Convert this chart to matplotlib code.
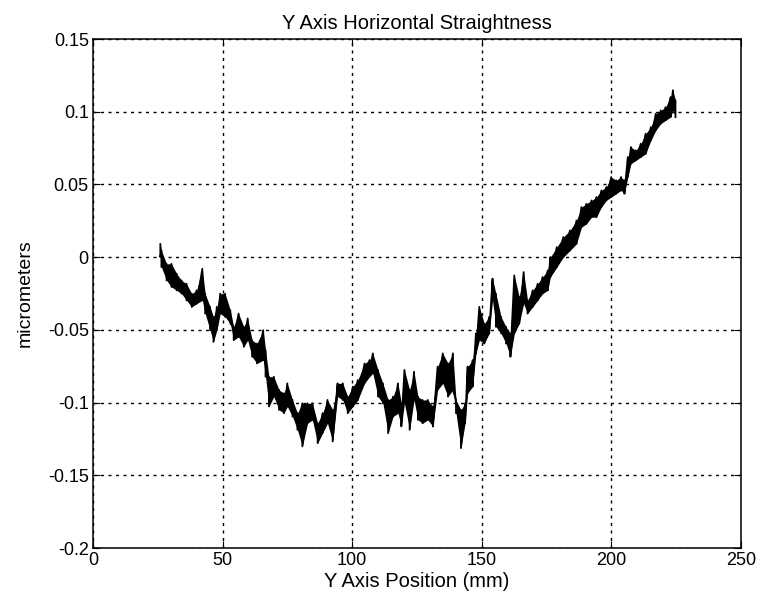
import matplotlib
matplotlib.use("Agg")
from matplotlib import pyplot as plt
import numpy as np

plt.rcParams['font.family'] = ['Liberation Sans', 'DejaVu Sans']
plt.rcParams['axes.unicode_minus'] = False

# position along the axis (mm) and the band of the trace
pos = [26.0, 26.4, 28.4, 30.3, 32.3, 34.2, 36.1, 38.1, 40.0, 42.2,
       43.3, 45.2, 46.5, 47.8, 49.1, 51.0, 53.0, 54.3, 56.2, 58.2,
       59.7, 61.4, 63.3, 65.7, 66.6, 67.9, 69.8, 71.8, 73.7, 75.0,
       77.0, 78.9, 80.8, 82.8, 84.7, 86.7, 88.6, 90.5, 92.5, 94.4,
       96.4, 98.3, 100.3, 102.2, 104.8, 106.7, 108.0, 110.0, 111.9, 113.9,
       115.8, 117.7, 119.0, 120.2, 122.2, 123.9, 125.4, 127.2, 129.2, 131.2,
       133.0, 135.0, 137.0, 138.9, 140.1, 142.0, 143.6, 144.6, 146.5, 147.8,
       149.1, 151.0, 152.9, 154.2, 155.5, 157.5, 159.4, 161.1, 162.6, 164.5,
       166.2, 167.7, 169.7, 171.6, 173.5, 175.5, 176.5, 179.0, 181.5, 184.1,
       186.6, 188.5, 190.4, 192.4, 194.3, 196.2, 198.1, 200.0, 201.9, 203.8,
       205.1, 206.4, 207.6, 209.5, 211.4, 213.3, 215.3, 217.2, 219.1, 221.0,
       222.9, 223.8, 224.8]

top = [0.009, 0.0046, -0.0046, -0.0046, -0.0114, -0.016, -0.0183, -0.0251, -0.0228, -0.008,
       -0.0251, -0.0342, -0.0411, -0.0342, -0.0251, -0.0251, -0.0365, -0.0479, -0.0388, -0.0479,
       -0.0422, -0.0571, -0.0594, -0.0502, -0.0639, -0.0822, -0.0822, -0.0913, -0.0936, -0.0868,
       -0.0982, -0.1073, -0.1005, -0.1005, -0.1005, -0.1142, -0.1073, -0.0982, -0.105, -0.0868,
       -0.0868, -0.0959, -0.089, -0.0845, -0.0731, -0.0708, -0.0662, -0.0776, -0.0868, -0.0982,
       -0.0959, -0.0868, -0.1005, -0.0776, -0.0913, -0.0788, -0.0959, -0.0982, -0.0982, -0.1027,
       -0.0753, -0.0662, -0.0731, -0.0662, -0.0982, -0.105, -0.1005, -0.0753, -0.0708, -0.0525,
       -0.0342, -0.0457, -0.0411, -0.0148, -0.0251, -0.0411, -0.0479, -0.0525, -0.0126, -0.0274,
       -0.0103, -0.0297, -0.0228, -0.0183, -0.0137, -0.0091, 0.0, 0.0069, 0.0138, 0.0184,
       0.0252, 0.0344, 0.0367, 0.039, 0.0413, 0.0459, 0.0482, 0.0551, 0.0528, 0.0551,
       0.0528, 0.0688, 0.0757, 0.0734, 0.078, 0.0849, 0.0895, 0.0986, 0.1009, 0.1032,
       0.1101, 0.1147, 0.1078]

bottom = [0.0, -0.0068, -0.016, -0.0205, -0.0228, -0.0251, -0.0297, -0.0342, -0.032, -0.0297,
          -0.0388, -0.0502, -0.0582, -0.0502, -0.0388, -0.0411, -0.0457, -0.0571, -0.0548, -0.0616,
          -0.0571, -0.0685, -0.0731, -0.0708, -0.0822, -0.1027, -0.0959, -0.105, -0.1073, -0.1027,
          -0.1096, -0.1187, -0.1301, -0.1142, -0.1119, -0.1279, -0.121, -0.1142, -0.1267, -0.0959,
          -0.0982, -0.1073, -0.1027, -0.0982, -0.0868, -0.0822, -0.0799, -0.0959, -0.1005, -0.121,
          -0.1096, -0.1073, -0.1164, -0.1005, -0.1187, -0.0982, -0.1119, -0.1142, -0.1119, -0.1164,
          -0.0913, -0.0868, -0.0959, -0.0913, -0.1073, -0.1313, -0.1142, -0.0936, -0.089, -0.0662,
          -0.0571, -0.0594, -0.0525, -0.0297, -0.0479, -0.0525, -0.0594, -0.0685, -0.0525, -0.0457,
          -0.032, -0.0388, -0.0342, -0.0297, -0.0251, -0.0228, -0.0138, -0.0069, 0.0, 0.0046,
          0.0092, 0.0206, 0.0229, 0.0275, 0.0275, 0.0344, 0.039, 0.0413, 0.0436, 0.0459,
          0.0436, 0.0551, 0.0642, 0.0665, 0.0688, 0.0711, 0.0803, 0.0872, 0.0918, 0.0941,
          0.0963, 0.1009, 0.0963]

xticks = [0, 50, 100, 150, 200, 250]
yticks = [-0.2, -0.15, -0.1, -0.05, 0, 0.05, 0.1, 0.15]

fig = plt.figure(figsize=(7.59, 6.02), dpi=100)
ax = fig.add_axes([0.1225, 0.0897, 0.8535, 0.8455])

# trace drawn as a sawtooth between the top and bottom of the band
xs = np.repeat(pos, 2)
ys = np.column_stack([top, bottom]).ravel()
ax.fill_between(pos, bottom, top, color='black', linewidth=0)
ax.plot(xs, ys, color='black', linewidth=1.3)

ax.set_xlim(0, 250)
ax.set_ylim(-0.2, 0.15)
ax.set_xticks(xticks)
ax.set_yticks(yticks)
ax.set_yticklabels(['%g' % v for v in yticks])
ax.tick_params(direction='in', top=True, right=True, labelsize=13, length=5, pad=3)
ax.grid(True, color='black', linestyle=(0, (2.2, 3.2)), linewidth=1.0)
for s in ax.spines.values():
    s.set_linewidth(1.1)

ax.set_title('Y Axis Horizontal Straightness', fontsize=14.5, pad=7)
ax.set_xlabel('Y Axis Position (mm)', fontsize=14.5, labelpad=2)
ax.set_ylabel('micrometers', fontsize=14, labelpad=10)

fig.savefig('out.png', dpi=100)
